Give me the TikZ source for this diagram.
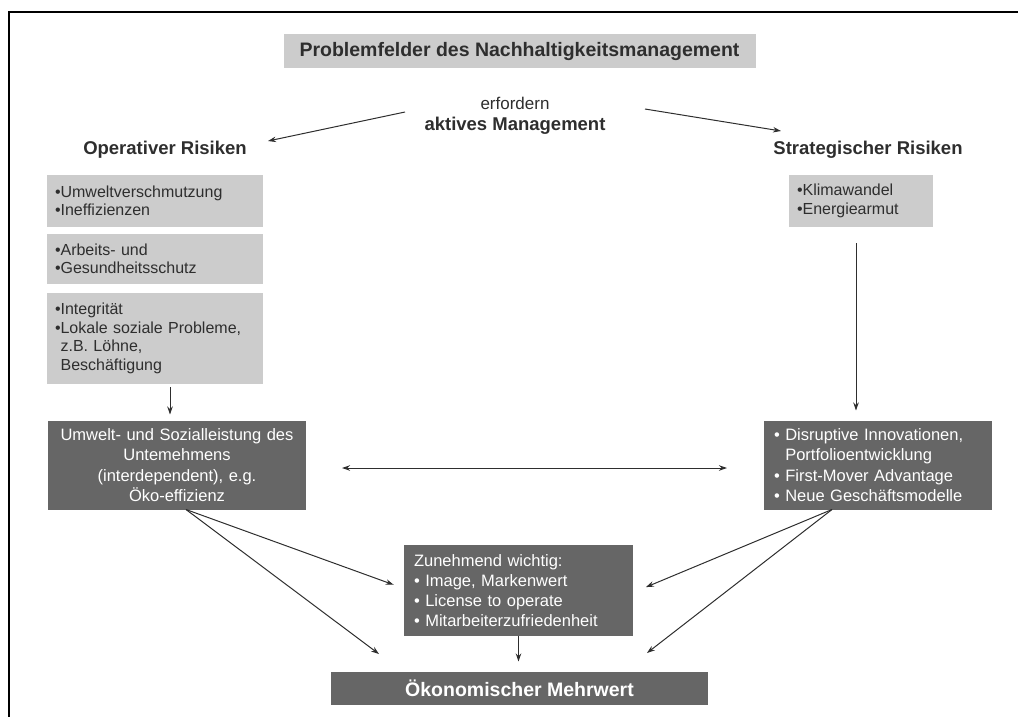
\documentclass[tikz,border=0pt]{standalone}
\usepackage{fontspec}
\setmainfont{Liberation Sans}
\usetikzlibrary{arrows.meta}
\definecolor{lightfill}{gray}{0.80}
\definecolor{darkfill}{gray}{0.40}
\definecolor{inkgray}{gray}{0.18}
\begin{document}
\begin{tikzpicture}[x=1pt,y=-1pt,
  every node/.style={inner sep=0pt, outer sep=0pt},
  lbox/.style={fill=lightfill, text=inkgray, align=left, inner xsep=8pt, font=\fontsize{16}{18.5}\selectfont},
  dbox/.style={fill=darkfill, text=white, inner xsep=10pt, font=\fontsize{16.5}{20.2}\selectfont},
  head/.style={font=\bfseries\fontsize{18.5}{22}\selectfont, text=inkgray},
  arr/.style={draw=inkgray, line width=1pt, -{Stealth[length=8pt,width=5.5pt]}},
  dblarr/.style={draw=inkgray, line width=1pt, {Stealth[length=8pt,width=5.5pt]}-{Stealth[length=8pt,width=5.5pt]}},
]
\useasboundingbox (0,0) rectangle (1018,716);
\draw[line width=2pt] (9,717) -- (9,12) -- (1019,12);

% title
\node[fill=lightfill, minimum width=472, minimum height=34, font=\bfseries\fontsize{19.5}{22}\selectfont, text=inkgray] (title) at (519.5,51) {Problemfelder des Nachhaltigkeitsmanagement};
\node[font=\fontsize{17}{20}\selectfont, text=inkgray] (erf) at (515,103) {erfordern};
\node[head] (aktiv) at (515,126) {aktives Management};
\node[head] (oprisk) at (165,150) {Operativer Risiken};
\node[head] (strisk) at (868,150) {Strategischer Risiken};

% left light boxes
\node[lbox, text width=200, minimum height=52] (b1) at (155,201) {•Umweltverschmutzung\\•Ineffizienzen};
\node[lbox, text width=200, minimum height=50] (b2) at (155,259) {•Arbeits- und\\•Gesundheitsschutz};
\node[lbox, text width=200, minimum height=91] (b3) at (155,338.5) {•Integrität\\•Lokale soziale Probleme,\\\hphantom{•}z.B. Löhne,\\\hphantom{•}Beschäftigung};

% right light box
\node[lbox, text width=128, minimum height=52] (klima) at (861,201) {•Klimawandel\\•Energiearmut};

% dark boxes
\node[dbox, text width=238, minimum height=89, align=center] (ldark) at (177,465) {Umwelt- und Sozialleistung des\\Untemehmens\\(interdependent), e.g.\\Öko-effizienz};
\node[dbox, text width=208, minimum height=89, align=left] (rdark) at (878,465) {• Disruptive Innovationen,\\\hphantom{• }Portfolioentwicklung\\• First-Mover Advantage\\• Neue Geschäftsmodelle};
\node[dbox, text width=209, minimum height=91, align=left] (mid) at (518.5,590.5) {Zunehmend wichtig:\\• Image, Markenwert\\• License to operate\\• Mitarbeiterzufriedenheit};
\node[fill=darkfill, text=white, minimum width=377, minimum height=33, font=\bfseries\fontsize{19.5}{22}\selectfont] (bottom) at (519.5,688) {Ökonomischer Mehrwert};

% connectors
\coordinate (aLs) at (405,112);
\coordinate (aLt) at (268,141);
\coordinate (aRs) at (645,109);
\coordinate (aRt) at (781,131);
\draw[arr] (aLs) -- (aLt);
\draw[arr] (aRs) -- (aRt);

\draw[arr, shorten <=3pt, shorten >=6pt] ([xshift=15pt]b3.south) -- ([xshift=-7pt]ldark.north);
\draw[arr, shorten <=16pt, shorten >=10pt] ([xshift=-5pt]klima.south) -- ([xshift=-22pt]rdark.north);
\draw[dblarr, shorten <=36pt, shorten >=37pt] ([yshift=-3pt]ldark.east) -- ([yshift=-3pt]rdark.west);

\coordinate (tipBL) at (379,654);
\coordinate (tipBR) at (647,653);
\draw[arr, shorten >=11pt] ([xshift=9pt]ldark.south) -- ([yshift=2pt]mid.west);
\draw[arr] ([xshift=9pt]ldark.south) -- (tipBL);
\draw[arr, shorten >=14pt] ([xshift=-46pt]rdark.south) -- ([yshift=-2pt]mid.east);
\draw[arr] ([xshift=-46pt]rdark.south) -- (tipBR);
\draw[arr, shorten >=10pt] (mid.south) -- (mid.south |- bottom.north);
\end{tikzpicture}
\end{document}
